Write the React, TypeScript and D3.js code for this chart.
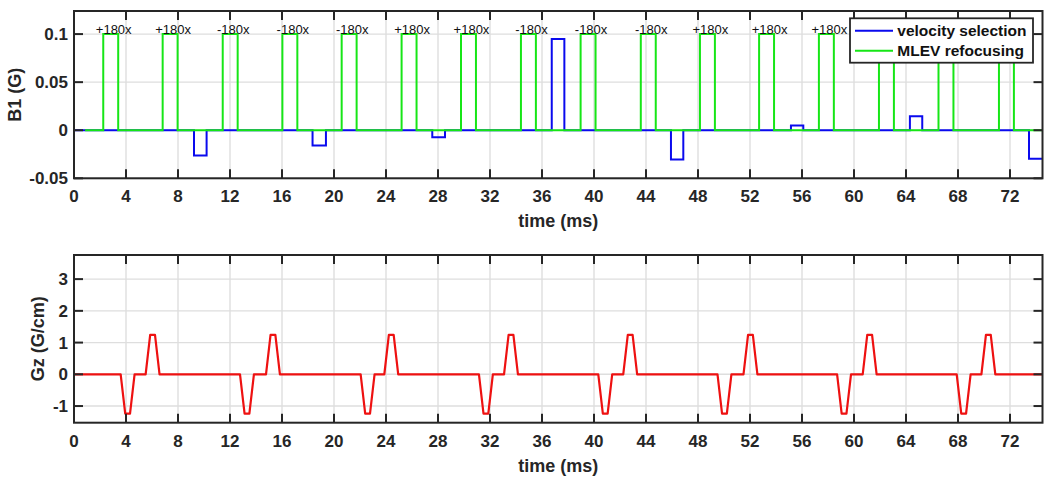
import React from "react";
import * as d3 from "d3";

// ---------- data ----------
const T_END = 74.5; // ms, end of the time window
const X_TICKS = [0, 4, 8, 12, 16, 20, 24, 28, 32, 36, 40, 44, 48, 52, 56, 60, 64, 68, 72];

// MLEV refocusing (green) — rectangular 180° pulses
const MLEV_ON = 0.85; // green trace begins here (ms)
const mlevStarts = [2.25, 6.82, 11.44, 16.03, 20.59, 25.2, 29.77, 34.38, 38.97, 43.6, 48.15, 52.7, 57.3, 61.92, 66.5, 71.15];
const mlevWidth = 1.15;
const mlevAmp = 0.1;
const mlevPhases = ["+180x", "+180x", "-180x", "-180x", "-180x", "+180x", "+180x", "-180x", "-180x", "-180x", "+180x", "+180x", "+180x", "-180x", "-180x", "+180x"];

// velocity selection (blue) — short pulses
const velStarts = [9.23, 18.35, 27.56, 36.75, 45.92, 55.15, 64.3, 73.46];
const velEnds = [10.2, 19.38, 28.54, 37.72, 46.87, 56.1, 65.25, 74.5];
const velAmps = [-0.0262, -0.0159, -0.0073, 0.095, -0.0304, 0.0049, 0.0145, -0.0297];

const B1_TICKS = [-0.05, 0, 0.05, 0.1];
const B1_DOMAIN = [-0.05, 0.124];

// Gz gradient (red) — negative lobe followed by positive lobe
const gzNegStarts = [3.59, 12.77, 22.05, 31.15, 40.33, 49.5, 58.7, 67.9];
const gzPosStarts = [5.51, 14.77, 23.87, 33.08, 42.25, 51.5, 60.67, 69.8];
const gzAmp = 1.24;
const gzRamp = 0.35;
const gzFlat = 0.37;
const GZ_TICKS = [-1, 0, 1, 2, 3];
const GZ_DOMAIN = [-1.525, 3.76];

// ---------- build traces ----------
type P = [number, number];
function mlevTrace(): P[] {
  const pts: P[] = [[MLEV_ON, 0]];
  mlevStarts.forEach((s) => {
    pts.push([s, 0], [s, mlevAmp], [s + mlevWidth, mlevAmp], [s + mlevWidth, 0]);
  });
  pts.push([T_END, 0]);
  return pts;
}
function velTrace(): P[] {
  const pts: P[] = [[0, 0]];
  velStarts.forEach((s, i) => {
    const e = Math.min(velEnds[i], T_END);
    pts.push([s, 0], [s, velAmps[i]], [e, velAmps[i]]);
    if (e < T_END) pts.push([e, 0]);
  });
  return pts;
}
function gzTrace(): P[] {
  const pts: P[] = [[0, 0]];
  const lobes = [
    ...gzNegStarts.map((s) => ({ s, a: -gzAmp })),
    ...gzPosStarts.map((s) => ({ s, a: gzAmp })),
  ].sort((a, b) => a.s - b.s);
  lobes.forEach(({ s, a }) => {
    pts.push([s, 0], [s + gzRamp, a], [s + gzRamp + gzFlat, a], [s + 2 * gzRamp + gzFlat, 0]);
  });
  pts.push([T_END, 0]);
  return pts;
}

// ---------- layout ----------
const W = 1050;
const H = 479;
const X0 = 74;
const X1 = 1042.5;
const TOP = { y0: 11, y1: 178.3 };
const BOT = { y0: 255, y1: 422.7 };
const FONT = "'Liberation Sans', Arial, Helvetica, sans-serif";
const AX = "#262626";
const GRID = "#dedede";
const TICK_LEN = 9;
const LEG = { x: 850, y: 18.3, w: 183, h: 44.4 };

function Panel(props: {
  y0: number;
  y1: number;
  domain: number[];
  yTicks: number[];
  yFmt: (v: number) => string;
  ylabel: string;
  ylabelX: number;
  children: (x: d3.ScaleLinear<number, number>, y: d3.ScaleLinear<number, number>) => React.ReactNode;
}) {
  const { y0, y1, domain, yTicks, yFmt, ylabel, ylabelX } = props;
  const x = d3.scaleLinear().domain([0, T_END]).range([X0, X1]);
  const y = d3.scaleLinear().domain(domain).range([y1, y0]);
  const clipId = "clip" + Math.round(y0);
  return (
    <g>
      <defs>
        <clipPath id={clipId}>
          <rect x={X0} y={y0} width={X1 - X0} height={y1 - y0} />
        </clipPath>
      </defs>
      <rect x={X0} y={y0} width={X1 - X0} height={y1 - y0} fill="#fff" />
      {/* grid */}
      {X_TICKS.map((t) => (
        <line key={"gx" + t} x1={x(t)} x2={x(t)} y1={y0} y2={y1} stroke={GRID} strokeWidth={1.4} />
      ))}
      {yTicks.map((t) => (
        <line key={"gy" + t} x1={X0} x2={X1} y1={y(t)} y2={y(t)} stroke={GRID} strokeWidth={1.4} />
      ))}
      <g clipPath={`url(#${clipId})`}>{props.children(x, y)}</g>
      {/* ticks on all four sides, inward */}
      {X_TICKS.map((t) => (
        <g key={"tx" + t}>
          <line x1={x(t)} x2={x(t)} y1={y1} y2={y1 - TICK_LEN} stroke={AX} strokeWidth={2} />
          <line x1={x(t)} x2={x(t)} y1={y0} y2={y0 + TICK_LEN} stroke={AX} strokeWidth={2} />
        </g>
      ))}
      {yTicks.map((t) => (
        <g key={"ty" + t}>
          <line x1={X0} x2={X0 + TICK_LEN} y1={y(t)} y2={y(t)} stroke={AX} strokeWidth={2} />
          <line x1={X1} x2={X1 - TICK_LEN} y1={y(t)} y2={y(t)} stroke={AX} strokeWidth={2} />
        </g>
      ))}
      <rect x={X0} y={y0} width={X1 - X0} height={y1 - y0} fill="none" stroke={AX} strokeWidth={2} />
      {/* tick labels */}
      {X_TICKS.map((t) => (
        <text key={"lx" + t} x={x(t)} y={y1 + 24} textAnchor="middle" fontFamily={FONT} fontWeight="bold" fontSize={17} fill={AX}>
          {t}
        </text>
      ))}
      {yTicks.map((t) => (
        <text key={"ly" + t} x={X0 - 6} y={y(t)} dy="0.36em" textAnchor="end" fontFamily={FONT} fontWeight="bold" fontSize={17} fill={AX}>
          {yFmt(t)}
        </text>
      ))}
      <text x={(X0 + X1) / 2} y={y1 + 49} textAnchor="middle" fontFamily={FONT} fontWeight="bold" fontSize={18} fill={AX}>
        time (ms)
      </text>
      <text
        transform={`translate(${ylabelX},${(y0 + y1) / 2}) rotate(-90)`}
        textAnchor="middle"
        fontFamily={FONT}
        fontWeight="bold"
        fontSize={18}
        fill={AX}
      >
        {ylabel}
      </text>
    </g>
  );
}

export default function App() {
  const line = (x: d3.ScaleLinear<number, number>, y: d3.ScaleLinear<number, number>) =>
    d3
      .line<P>()
      .x((d) => x(d[0]))
      .y((d) => y(d[1]));

  const b1Fmt = (v: number) => (v === 0 ? "0" : String(v));
  const gzFmt = (v: number) => String(v);

  const xTop = d3.scaleLinear().domain([0, T_END]).range([X0, X1]);
  const yTop = d3.scaleLinear().domain(B1_DOMAIN).range([TOP.y1, TOP.y0]);

  return (
    <div style={{ position: "absolute", left: 0, top: 0 }}>
      <svg width={W} height={H} style={{ display: "block", background: "#fff" }}>
        <Panel y0={TOP.y0} y1={TOP.y1} domain={B1_DOMAIN} yTicks={B1_TICKS} yFmt={b1Fmt} ylabel="B1 (G)" ylabelX={21}>
          {(x, y) => (
            <g>
              <path d={line(x, y)(velTrace()) || ""} fill="none" stroke="#0a0aee" strokeWidth={2} />
              <path d={line(x, y)(mlevTrace()) || ""} fill="none" stroke="#16e616" strokeWidth={2} />
            </g>
          )}
        </Panel>
        {/* pulse phase labels (those under the opaque legend are hidden, as in the reference) */}
        {mlevStarts.map((s, i) => {
          const cx = xTop(s + mlevWidth / 2) + 3;
          if (cx > LEG.x) return null;
          return (
            <text key={"ph" + i} x={cx} y={yTop(mlevAmp) - 0.5} textAnchor="middle" fontFamily={FONT} fontSize={13} fill="#111">
              {mlevPhases[i]}
            </text>
          );
        })}
        <Panel y0={BOT.y0} y1={BOT.y1} domain={GZ_DOMAIN} yTicks={GZ_TICKS} yFmt={gzFmt} ylabel="Gz (G/cm)" ylabelX={43.5}>
          {(x, y) => (
            <path d={line(x, y)(gzTrace()) || ""} fill="none" stroke="#ee1111" strokeWidth={2.2} strokeLinejoin="round" />
          )}
        </Panel>
        {/* legend */}
        <g>
          <rect x={LEG.x} y={LEG.y} width={LEG.w} height={LEG.h} fill="#fff" stroke={AX} strokeWidth={1.8} />
          <line x1={LEG.x + 5} x2={LEG.x + 43} y1={LEG.y + 12.4} y2={LEG.y + 12.4} stroke="#0a0aee" strokeWidth={2} />
          <line x1={LEG.x + 5} x2={LEG.x + 43} y1={LEG.y + 32.4} y2={LEG.y + 32.4} stroke="#16e616" strokeWidth={2} />
          <text x={LEG.x + 47.3} y={LEG.y + 18} fontFamily={FONT} fontWeight="bold" fontSize={15.5} fill="#111">
            velocity selection
          </text>
          <text x={LEG.x + 47.3} y={LEG.y + 38} fontFamily={FONT} fontWeight="bold" fontSize={15.5} fill="#111">
            MLEV refocusing
          </text>
        </g>
      </svg>
    </div>
  );
}
